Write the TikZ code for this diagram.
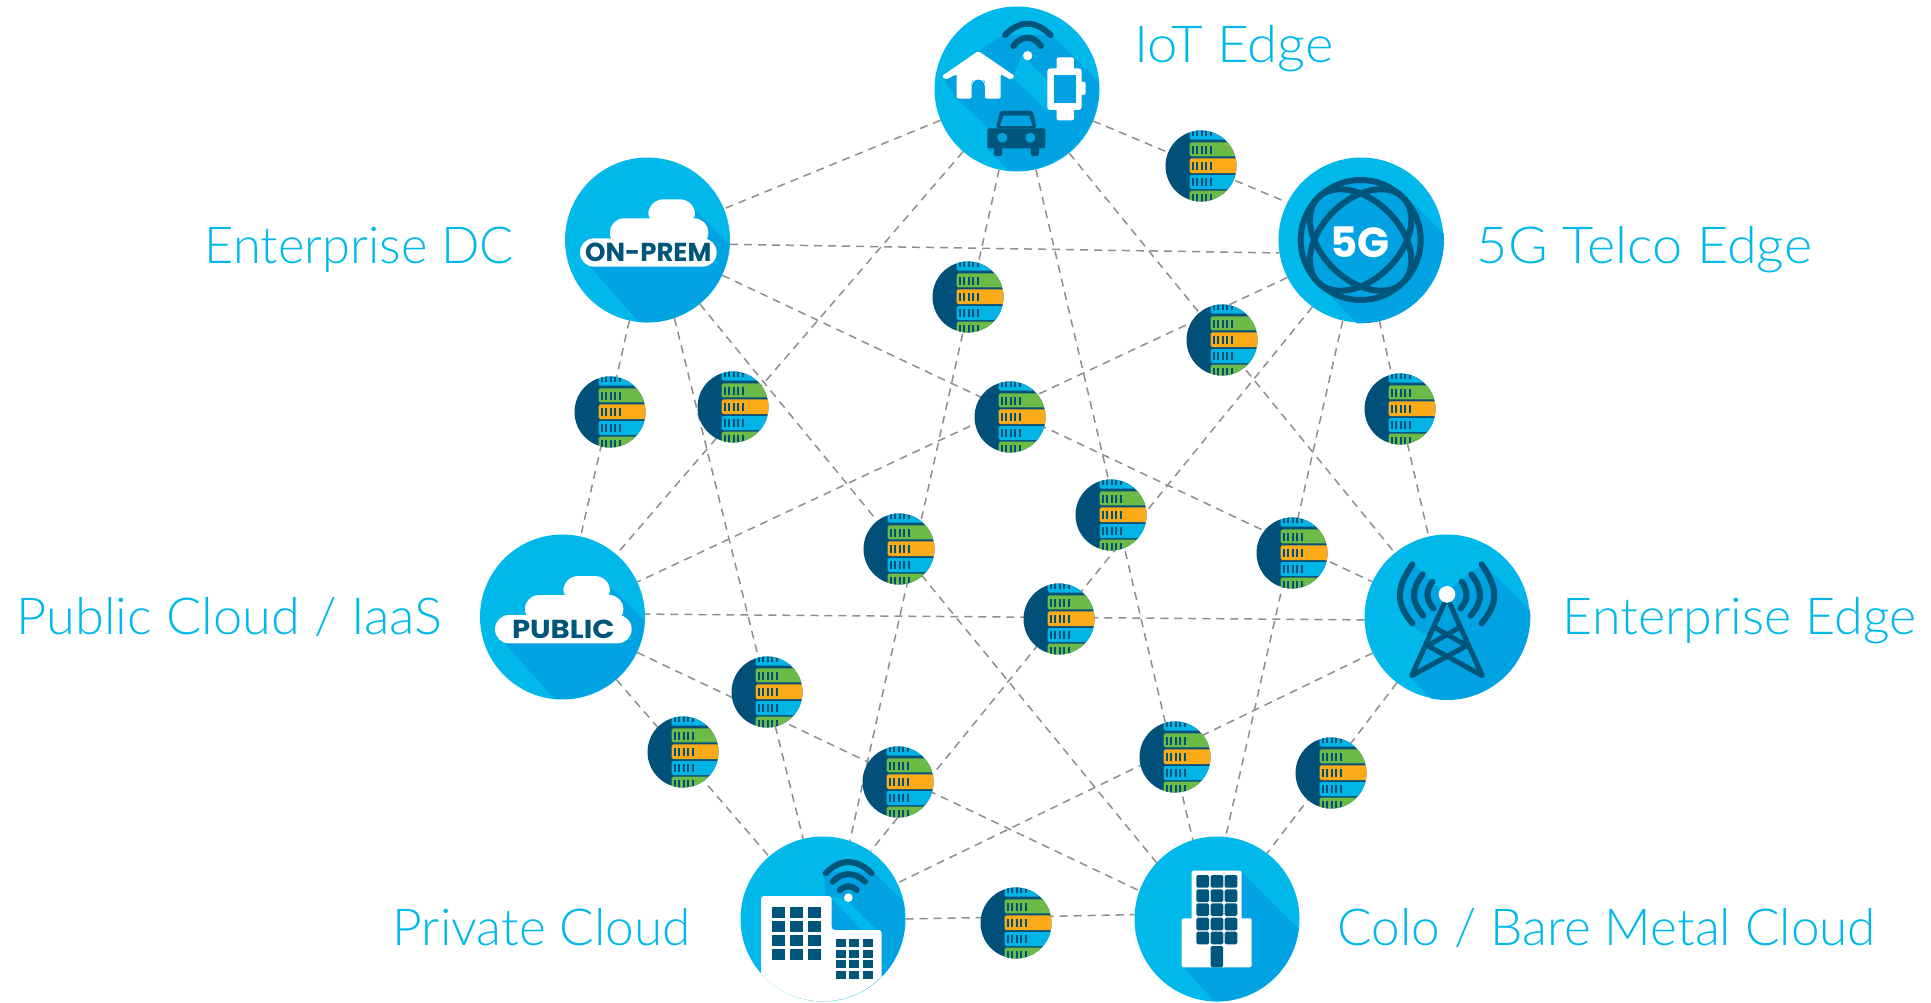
\documentclass[tikz,border=0pt]{standalone}
\usepackage{fontspec}
\setmainfont{Lato}
\newfontfamily\lab[UprightFont={* Light}]{Lato}
\newfontfamily\rnd{Poppins}
\definecolor{lite}{HTML}{00B9EA}
\definecolor{shdw}{HTML}{00A2E1}
\definecolor{navy}{HTML}{00557B}
\definecolor{sdark}{HTML}{00507A}
\definecolor{sgreen}{HTML}{6CBB47}
\definecolor{sorange}{HTML}{FBAB18}
\definecolor{sblue}{HTML}{00B5E6}
\definecolor{edgegray}{HTML}{8E8E8E}
\tikzset{
  bigc/.style={circle,inner sep=0pt,minimum size=165pt,fill=lite},
  link/.style={draw=edgegray,line width=1.5pt,dash pattern=on 8pt off 6pt},
  lbl/.style={anchor=base west,inner sep=0pt,text=lite,transform shape,font=\lab\fontsize{51}{55}\selectfont},
  wave/.style={draw=navy,line width=6pt,line cap=round},
  zoomed/.style 2 args={shift={(#1,#2)},x=.3333pt,y=-.3333pt},
  srv/.style={circle,inner sep=0pt,minimum size=71pt,fill=sdark,path picture={
    \begin{scope}[shift={(path picture bounding box.center)},x=.3333pt,y=-.3333pt]
      \foreach \ya/\yb/\c in {-125/-79/sblue,-71/-29/sgreen,-23/21/sorange,27/69/sblue,74/125/sgreen}{
        \fill[\c,rounded corners=1.5pt] (-34,\ya) rectangle (125,\yb);
        \foreach \tx in {-24,-11,3,16,29}
          \fill[sdark] (\tx-3,\ya+10) rectangle (\tx+3,\ya+34);
      }
    \end{scope}}},
}
\newcommand{\cloudicon}[3]{%
  \fill[shdw] (400,175)--(700,475)--(400,700)--(90,350)--(470,340)--cycle;
  \fill[white,rounded corners=14pt] (60,265) rectangle (470,350);
  \fill[white,rounded corners=14pt] (150,205) rectangle (445,290);
  \fill[white,rounded corners=15pt] (265,148) rectangle (405,230);
  \node[font=\rnd\bfseries\fontsize{26}{28}\selectfont,text=navy,inner sep=0pt,xscale=#3,transform shape] (#1) at (265,308) {#2};
}
\begin{document}
\begin{tikzpicture}[x=1pt,y=-1pt]
\useasboundingbox (0,0) rectangle (1931,1002);
% hubs
\node[bigc] (iot) at (1017,89) {};
\node[bigc] (dc) at (647.5,240) {};
\node[bigc] (fiveg) at (1361,240) {};
\node[bigc] (edge) at (1447,617) {};
\node[bigc] (colo) at (1217,919) {};
\node[bigc] (priv) at (823,919) {};
\node[bigc] (pub) at (562.5,617) {};
% connectors
\foreach \a/\b in {iot/dc,iot/fiveg.153,iot/pub,iot/priv.71,iot/colo.107,iot/edge,
  dc.-3/fiveg.189,dc/edge,dc/colo.137,dc.-71/priv,dc/pub,
  fiveg/edge,fiveg/colo.84,fiveg.234/priv.55,fiveg.207/pub,
  edge.182/pub.2,edge/priv,edge/colo,
  pub/colo.160,pub/priv,priv.0/colo.177}
  \draw[link] (\a) -- (\b);
% server nodes
\foreach \n/\x/\y in {s1/1201/166,s2/968/297,s3/1222/340,s4/610/412,s5/733/407,s6/1010/417,
  s7/1400/409,s8/1111/515,s9/899/549,s10/1292/553,s11/1059/619,s12/767/692,s13/683/752,
  s14/898/782,s15/1175/757,s16/1331/773,s17/1016/923}
  \node[srv] (\n) at (\x,\y) {};
% IoT icon
\begin{scope}[zoomed={920}{0}]
  \clip (291,266) circle (246);
  \fill[shdw] (70,235)--(175,155)--(250,105)--(395,105)--(695,405)--(400,645)--(265,510)--(200,445)--(205,385)--(110,295)--cycle;
  \fill[lite] (305,165)--(400,260)--(385,335)--(280,235)--cycle;
  \draw[wave] (255,105) .. controls (300,60) and (345,60) .. (392,105);
  \draw[wave] (280,138) .. controls (305,105) and (340,105) .. (363,138);
  \fill[white] (323,167) circle (14);
  \fill[white,rounded corners=2pt] (175,153)--(284,228)--(274,240)--(242,222)--(242,296)--(195,296)--(195,240)--(155,240)--(155,296)--(110,296)--(110,222)--(76,240)--(66,228)--cycle;
  \fill[white] (175,255) circle (20);
  \fill[shdw] (175,258) circle (19);
  \fill[shdw] (156,258) rectangle (194,296);
  \fill[white,rounded corners=2pt] (410,172) rectangle (462,215);
  \fill[white,rounded corners=2pt] (410,320) rectangle (462,361);
  \fill[white,rounded corners=2pt] (480,245) rectangle (497,285);
  \fill[white,rounded corners=3pt] (382,205) rectangle (485,330);
  \fill[shdw] (402,225) rectangle (467,310);
  \fill[navy,rounded corners=3pt] (228,385)--(240,332)--(338,332)--(350,385)--cycle;
  \fill[navy,rounded corners=2pt] (202,385) rectangle (376,445);
  \fill[shdw] (240,378)--(250,347)--(328,347)--(338,378)--cycle;
  \fill[navy,rounded corners=2pt] (222,435) rectangle (246,468);
  \fill[navy,rounded corners=2pt] (333,435) rectangle (357,468);
  \fill[shdw] (247,413) circle (15);
  \fill[shdw] (331,413) circle (15);
\end{scope}
% clouds
\begin{scope}[zoomed={560}{150}]
  \clip (262,270) circle (247);
  \cloudicon{onprem}{ON-PREM}{1}
\end{scope}
\begin{scope}[zoomed={475}{526.67}]
  \clip (262,270) circle (247);
  \cloudicon{public}{PUBLIC}{1.12}
\end{scope}
% 5G icon
\begin{scope}[zoomed={1270}{150}]
  \clip (272,270) circle (250);
  \fill[shdw] (435,165)--(700,430)--(450,720)--(170,425)--cycle;
  \fill[shdw] (272,270) circle (180);
  \draw[navy,line width=6pt] (272,270) circle (180);
  \draw[navy,line width=6pt,rotate around={45:(272,270)}] (272,270) ellipse [x radius=180,y radius=118];
  \draw[navy,line width=6pt,rotate around={-45:(272,270)}] (272,270) ellipse [x radius=180,y radius=118];
  \node[font=\rnd\bfseries\fontsize{42}{44}\selectfont,text=white,inner sep=0pt] (tfive) at (270,278) {5G};
\end{scope}
% tower icon
\begin{scope}[zoomed={1355}{525}]
  \clip (276,275) circle (250);
  \fill[shdw] (175,115)--(265,205)--(320,165)--(385,115)--(700,430)--(400,700)--(165,455)--(230,345)--(170,300)--(125,200)--cycle;
  \draw[wave] (172,118) .. controls (122,190) and (122,235) .. (172,295);
  \draw[wave] (203,148) .. controls (168,195) and (168,228) .. (205,272);
  \draw[wave] (232,170) .. controls (212,200) and (212,222) .. (235,250);
  \draw[wave] (380,118) .. controls (430,190) and (430,235) .. (380,295);
  \draw[wave] (349,148) .. controls (384,195) and (384,228) .. (347,272);
  \draw[wave] (320,170) .. controls (340,200) and (340,222) .. (317,250);
  \draw[navy,line width=5pt,line cap=round,line join=round]
    (268,235)--(170,452)--(335,362)--(240,308)
    (284,235)--(382,452)--(218,362)--(312,308);
  \fill[white] (276,208) circle (25);
\end{scope}
% colo icon
\begin{scope}[zoomed={1125}{830}]
  \clip (275,266) circle (248);
  \fill[shdw] (350,125)--(700,475)--(450,720)--(175,410)--cycle;
  \fill[white,rounded corners=1.5pt] (200,122) rectangle (350,300);
  \fill[white,rounded corners=1.5pt] (170,265) rectangle (380,412);
  \foreach \xa in {214,257,299}
    \foreach \ya in {135,178,220,263,305}
      \fill[navy,rounded corners=1.5pt] (\xa,\ya) rectangle (\xa+38,\ya+38);
  \fill[navy,rounded corners=1.5pt] (257,348) rectangle (294,412);
\end{scope}
% private cloud icon
\begin{scope}[zoomed={730}{830}]
  \clip (278,267) circle (247);
  \fill[shdw] (280,125)--(430,125)--(700,395)--(500,600)--(300,300)--cycle;
  \fill[lite] (300,200)--(345,205)--(440,300)--(400,305)--cycle;
  \fill[white,rounded corners=3pt] (93,600)--(93,198)--(305,198)--(305,300)--(455,300)--(455,600)--cycle;
  \foreach \xa in {126,180,234}
    \foreach \ya in {231,273,315,357}
      \fill[navy] (\xa,\ya) rectangle (\xa+39,\ya+33);
  \foreach \xa in {318,358,399}
    \foreach \ya in {327,360,391,423}
      \fill[navy] (\xa,\ya) rectangle (\xa+30,\ya+24);
  \draw[wave] (287,130) .. controls (330,85) and (380,85) .. (425,130);
  \draw[wave] (308,155) .. controls (335,125) and (375,125) .. (405,155);
  \draw[wave] (330,180) .. controls (345,165) and (365,165) .. (380,180);
  \fill[white] (355,203) circle (13);
\end{scope}
% labels
\node[lbl,xscale=1.07] (liot) at (1134,62) {IoT Edge};
\node[lbl,xscale=.993] (ldc) at (204.5,263) {Enterprise DC};
\node[lbl,xscale=1.06] (l5g) at (1476.5,263) {5G Telco Edge};
\node[lbl,xscale=1.027] (lpub) at (16.5,634) {Public Cloud / IaaS};
\node[lbl,xscale=1.02] (ledge) at (1562.5,634) {Enterprise Edge};
\node[lbl,xscale=1.008] (lpriv) at (392.5,945) {Private Cloud};
\node[lbl,xscale=1.006] (lcolo) at (1337.5,945) {Colo / Bare Metal Cloud};
\end{tikzpicture}
\end{document}
